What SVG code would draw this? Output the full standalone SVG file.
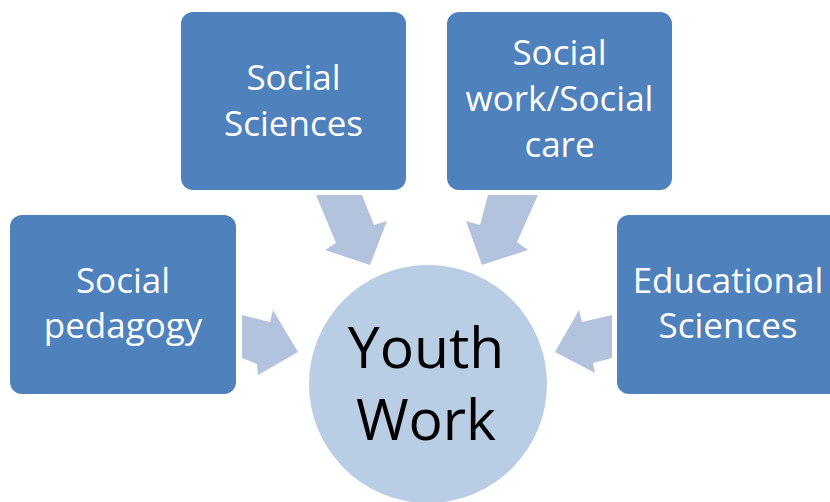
<svg xmlns="http://www.w3.org/2000/svg" width="830" height="502" viewBox="0 0 830 502">
<style>
.box{fill:#4F81BD}
.lbl{fill:#FFFFFF;font-family:"Open Sans","Liberation Sans",sans-serif;font-size:35px;text-anchor:middle}
.arr{fill:#B3C3DE}
.hub{fill:#B9CDE5}
.hubt{fill:#000000;font-family:"Open Sans","Liberation Sans",sans-serif;font-size:57px;text-anchor:middle}
</style>
<rect width="830" height="502" fill="#FFFFFF"/>
<g id="connectors">
<polygon class="arr" points="316,195 362,195 374,225 387,221 370,265 325,250 336,243"/>
<polygon class="arr" points="488,195 538,195 517,242 528,250 482,265 466,221 480,225"/>
<polygon class="arr" points="242,315 270,322 273,310 298,352 258,375 257,364 242,358"/>
<polygon class="arr" points="612,315 582,322 579,310 555,352 595,373 593,363 612,358"/>
</g>
<g id="youth-work">
<circle class="hub" cx="428" cy="384" r="119"/>
<text class="hubt" x="426" y="368">Youth</text>
<text class="hubt" x="426" y="440">Work</text>
</g>
<g id="social-sciences">
<rect class="box" x="181" y="12" width="225" height="178" rx="12"/>
<text class="lbl" x="293.5" y="90">Social</text>
<text class="lbl" x="293.5" y="136">Sciences</text>
</g>
<g id="social-work">
<rect class="box" x="447" y="12" width="225" height="178" rx="12"/>
<text class="lbl" x="559.5" y="65">Social</text>
<text class="lbl" x="559.5" y="111">work/Social</text>
<text class="lbl" x="559.5" y="157">care</text>
</g>
<g id="social-pedagogy">
<rect class="box" x="10" y="215" width="226" height="179" rx="12"/>
<text class="lbl" x="123" y="293">Social</text>
<text class="lbl" x="123" y="338">pedagogy</text>
</g>
<g id="educational-sciences">
<rect class="box" x="617" y="215" width="226" height="179" rx="12"/>
<text class="lbl" x="728" y="293">Educational</text>
<text class="lbl" x="728" y="338">Sciences</text>
</g>
</svg>
